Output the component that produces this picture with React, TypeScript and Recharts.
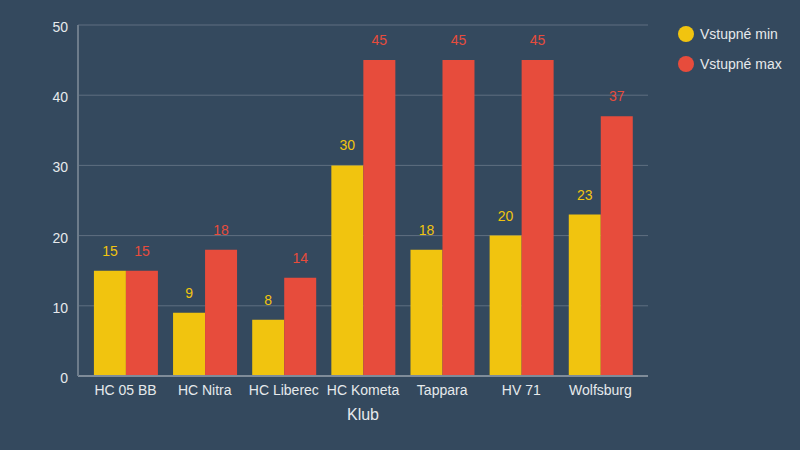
import { BarChart, Bar, XAxis, YAxis, CartesianGrid, LabelList, Label } from "recharts"

const clubs = ["HC 05 BB", "HC Nitra", "HC Liberec", "HC Kometa", "Tappara", "HV 71", "Wolfsburg"]
const minFee = [15, 9, 8, 30, 18, 20, 23]
const maxFee = [15, 18, 14, 45, 45, 45, 37]
const yTicks = [0, 10, 20, 30, 40, 50]

const data = clubs.map((club, i) => ({ club, min: minFee[i], max: maxFee[i] }))

const BG = "#34495e"
const YELLOW = "#f1c40f"
const RED = "#e74c3c"
const TEXT = "#e6e9ec"
const FONT = "'Liberation Sans', Arial, sans-serif"

const legendItems = [
  { name: "Vstupné min", color: YELLOW },
  { name: "Vstupné max", color: RED }
]

export default function App() {
  return (
    <div style={{ position: "relative", width: 800, height: 450, background: BG, fontFamily: FONT }}>
      <style>{`body{margin:0}`}</style>
      <BarChart
        width={800}
        height={450}
        data={data}
        margin={{ top: 25, right: 152, bottom: 0, left: 0 }}
        barCategoryGap="10%"
        barGap={0}
      >
        <CartesianGrid vertical={false} stroke="#5f6f80" strokeWidth={1} />
        <XAxis
          dataKey="club"
          height={74}
          tickLine={false}
          tickMargin={3}
          padding={{ left: 8, right: 8 }}
          stroke="#7f8c99"
          strokeWidth={2}
          tick={{ fill: TEXT, fontSize: 14, fontFamily: FONT }}
          interval={0}
        >
          <Label value="Klub" position="insideBottom" offset={30} fill={TEXT} fontSize={16} fontFamily={FONT} />
        </XAxis>
        <YAxis
          width={78}
          domain={[0, 50]}
          ticks={yTicks}
          tickLine={false}
          tickMargin={4}
          stroke="#6d7c8b"
          strokeWidth={2}
          tick={{ fill: TEXT, fontSize: 14, fontFamily: FONT, dy: 2 }}
        />
        <Bar dataKey="min" fill={YELLOW} isAnimationActive={false}>
          <LabelList dataKey="min" position="top" offset={15} fill={YELLOW} fontSize={14} fontFamily={FONT} />
        </Bar>
        <Bar dataKey="max" fill={RED} isAnimationActive={false}>
          <LabelList dataKey="max" position="top" offset={15} fill={RED} fontSize={14} fontFamily={FONT} />
        </Bar>
      </BarChart>
      <div style={{ position: "absolute", left: 678, top: 24 }}>
        {legendItems.map((item) => (
          <div key={item.name} style={{ display: "flex", alignItems: "center", height: 20, marginBottom: 10 }}>
            <span style={{ width: 16, height: 16, borderRadius: 8, background: item.color, marginRight: 6 }} />
            <span style={{ color: TEXT, fontSize: 14 }}>{item.name}</span>
          </div>
        ))}
      </div>
    </div>
  )
}
